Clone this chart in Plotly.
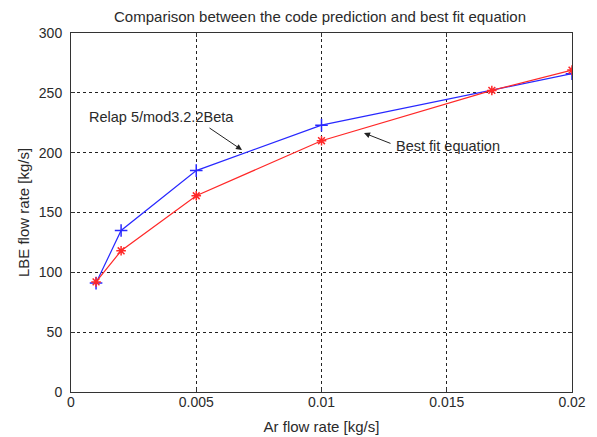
import plotly.graph_objects as go

# Data
relap_x = [0.001, 0.002, 0.005, 0.01, 0.02]
relap_y = [91, 135, 185, 223, 266]
fit_x = [0.001, 0.002, 0.005, 0.01, 0.0168, 0.02]
fit_y = [92, 118, 164, 210, 252, 269]

title_text = "Comparison between the code prediction and best fit equation"
x_title = "Ar flow rate [kg/s]"
y_title = "LBE flow rate [kg/s]"
x_ticks = [0, 0.005, 0.01, 0.015, 0.02]
x_ticklabels = ["0", "0.005", "0.01", "0.015", "0.02"]
y_ticks = [0, 50, 100, 150, 200, 250, 300]

fnt = "Liberation Sans, Arial, sans-serif"
txt = "#2a2a2a"

# The page body has an 8px default margin; figure is sized to fit the window.
OFF = 8
W, H = 597 - OFF, 437 - OFF
PL, PR, PT, PB = 71, 572, 33, 392  # absolute plot-area edges in window pixels

fig = go.Figure()
fig.add_trace(go.Scatter(x=relap_x, y=relap_y, mode="lines+markers",
                         line=dict(color="#2828ff", width=1.2),
                         marker=dict(symbol="cross-thin", size=9,
                                     line=dict(color="#2828ff", width=1.5)),
                         name="Relap"))
fig.add_trace(go.Scatter(x=fit_x, y=fit_y, mode="lines+markers",
                         line=dict(color="#ff2828", width=1.2),
                         marker=dict(symbol="asterisk", size=8,
                                     line=dict(color="#ff2828", width=1.5)),
                         name="Best fit"))

axis_common = dict(showline=True, linecolor="#333", linewidth=1, mirror="ticks",
                   ticks="inside", ticklen=4, tickcolor="#333", automargin=False,
                   showgrid=True, gridcolor="#222", griddash="3px,3px", gridwidth=1,
                   zeroline=False, tickfont=dict(family=fnt, size=14, color=txt))

fig.update_xaxes(range=[0, 0.02], tickvals=x_ticks, ticktext=x_ticklabels,
                 ticklabelstandoff=-3,
                 title=dict(text=x_title, font=dict(family=fnt, size=15, color=txt), standoff=12),
                 **axis_common)
fig.update_yaxes(range=[0, 300], tickvals=y_ticks, ticklabelstandoff=5,
                 title=dict(text=y_title, font=dict(family=fnt, size=15, color=txt), standoff=5),
                 **axis_common)

sx = (PR - PL) / 0.02
sy = (PB - PT) / 300.0

def dx(px):
    return (px - PL) / sx

def dy(py):
    return (PB - py) / sy

fig.add_annotation(xref="x", yref="y", x=dx(242), y=dy(150),
                   axref="x", ayref="y", ax=dx(208), ay=dy(127),
                   text="", showarrow=True, arrowhead=2, arrowsize=1.2, arrowwidth=1, arrowcolor="#222")
fig.add_annotation(xref="x", yref="y", x=dx(364), y=dy(133),
                   axref="x", ayref="y", ax=dx(392), ay=dy(144),
                   text="", showarrow=True, arrowhead=2, arrowsize=1.2, arrowwidth=1, arrowcolor="#222")
fig.add_annotation(xref="x", yref="y", x=dx(87), y=dy(117),
                   xanchor="left", yanchor="middle", text="Relap 5/mod3.2.2Beta",
                   showarrow=False, font=dict(family=fnt, size=14.5, color=txt))
fig.add_annotation(xref="x", yref="y", x=dx(394), y=dy(146),
                   xanchor="left", yanchor="middle", text="Best fit equation",
                   showarrow=False, font=dict(family=fnt, size=14.5, color=txt))

fig.update_layout(
    width=W, height=H,
    margin=dict(l=PL - OFF, r=W - (PR - OFF), t=PT - OFF, b=H - (PB - OFF), pad=0),
    paper_bgcolor="white", plot_bgcolor="white",
    showlegend=False,
    title=dict(text=title_text, x=(320 - OFF) / W, xanchor="center",
               y=1 - (16.5 - OFF) / H, yanchor="middle",
               font=dict(family=fnt, size=15, color=txt)),
)

fig.write_html("out.html")
